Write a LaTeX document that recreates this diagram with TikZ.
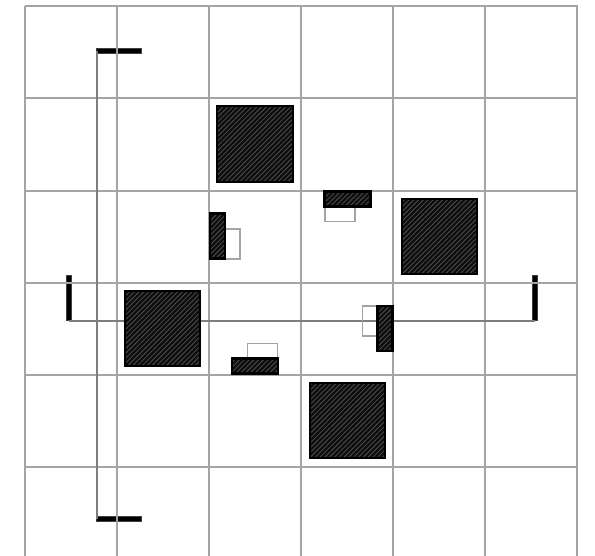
\documentclass[tikz,border=0pt]{standalone}
\usepackage{xcolor}
\usetikzlibrary{arrows.meta, positioning, calc, patterns.meta}

\definecolor{gridgray}{HTML}{A4A4A4}
\definecolor{rodgray}{HTML}{7E7E7E}
\definecolor{hatchgray}{HTML}{505050}

\tikzset{
    gridline/.style={draw=gridgray, line width=2.1pt},
    rodline/.style={draw=rodgray, line width=2pt},
    handle/.style={draw=black!75, fill=black, line width=1pt, inner sep=0pt, outer sep=0pt},
    hatched/.style={draw=black, line width=2.4pt, inner sep=0pt, outer sep=0pt,
        preaction={fill=black!95},
        pattern={Lines[angle=45, distance=3.4pt, line width=.8pt]}, pattern color=hatchgray},
    bigblock/.style={hatched, minimum width=75.5pt, minimum height=75.5pt},
    tallblock/.style={hatched, minimum width=15pt, minimum height=45pt},
    wideblock/.style={hatched, minimum width=46pt, minimum height=15pt},
    opentall/.style={draw=gridgray, line width=1.9pt, inner sep=0pt, minimum width=15pt, minimum height=30pt},
    openwide/.style={draw=gridgray, line width=1.9pt, inner sep=0pt, minimum width=30pt, minimum height=15pt}
}

\begin{document}
\begin{tikzpicture}[x=1pt, y=-1pt]
    \useasboundingbox (0,0) rectangle (595,556);

    % handles
    \node[handle, minimum width=45pt, minimum height=5pt] (handleTop) at (119,51.5) {};
    \node[handle, minimum width=45pt, minimum height=5pt] (handleBottom) at (119,518.5) {};
    \node[handle, minimum width=5pt, minimum height=45pt] (handleLeft) at (69,298.5) {};
    \node[handle, minimum width=5pt, minimum height=45pt] (handleRight) at (535,298.5) {};

    % grid
    \foreach \i in {0,...,6}
        \draw[gridline] ({25.3+92*\i},6) -- ({25.3+92*\i},556);
    \foreach \j in {0,...,5}
        \draw[gridline] (25,{6.2+92.2*\j}) -- (578,{6.2+92.2*\j});

    % rods
    \draw[rodline] (handleTop.west) -- (handleBottom.west);
    \draw[rodline] (handleLeft.south) -- (handleRight.south);

    % open boxes behind the small blocks
    \node[opentall] (openLeft) at (232.5,244) {};
    \node[openwide] (openTop) at (340,214) {};
    \node[opentall] (openRight) at (370,321) {};
    \node[openwide] (openBottom) at (262.5,351) {};

    % blocks
    \node[bigblock] (blockA) at (255,144) {};
    \node[bigblock] (blockB) at (439.5,236.5) {};
    \node[bigblock] (blockC) at (162.5,328.5) {};
    \node[bigblock] (blockD) at (347.5,420.5) {};
    \node[tallblock] (smallLeft) at (217.5,236) {};
    \node[wideblock] (smallTop) at (347.5,199) {};
    \node[tallblock] (smallRight) at (385,328.5) {};
    \node[wideblock] (smallBottom) at (255,366) {};
\end{tikzpicture}
\end{document}
